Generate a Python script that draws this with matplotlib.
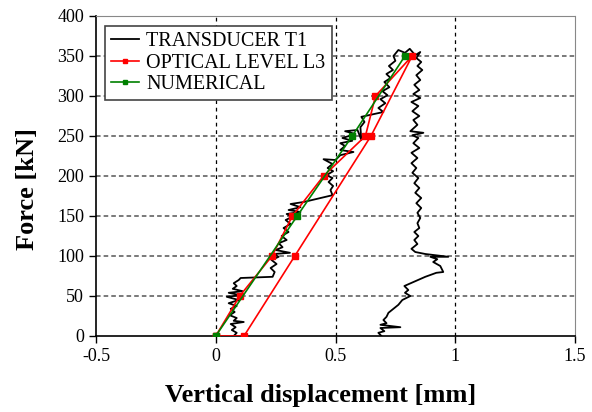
import matplotlib
matplotlib.use("Agg")
import matplotlib.pyplot as plt

# ---- data ----
transducer_x = [0.075, 0.0875, 0.067, 0.083, 0.0625, 0.117, 0.075, 0.0875, 0.058, 0.079,
                0.0625, 0.0875, 0.054, 0.096, 0.046, 0.104, 0.054, 0.1125, 0.071, 0.0875,
                0.075, 0.096, 0.104, 0.2375, 0.246, 0.229, 0.254, 0.233, 0.2625, 0.242,
                0.31, 0.25, 0.279, 0.263, 0.296, 0.275, 0.304, 0.283, 0.3125, 0.292,
                0.32, 0.296, 0.354, 0.304, 0.354, 0.3125, 0.367, 0.4875, 0.479, 0.49,
                0.471, 0.4875, 0.4625, 0.49, 0.467, 0.4875, 0.45, 0.5, 0.52, 0.575,
                0.52, 0.54, 0.52, 0.57, 0.529, 0.583, 0.54, 0.592, 0.608, 0.604,
                0.621, 0.608, 0.70, 0.679, 0.708, 0.6875, 0.717, 0.696, 0.725, 0.704,
                0.73, 0.7125, 0.74, 0.723, 0.75, 0.742, 0.7625, 0.79, 0.81, 0.833,
                0.854, 0.8375,
                0.858, 0.842, 0.8625, 0.8375, 0.854, 0.829, 0.85, 0.825, 0.854, 0.817,
                0.846, 0.821, 0.85, 0.825, 0.842, 0.8125, 0.867, 0.821, 0.846, 0.825,
                0.85, 0.817, 0.842, 0.817, 0.8375, 0.821, 0.846, 0.829, 0.85, 0.833,
                0.858, 0.8375, 0.858, 0.842, 0.854, 0.842, 0.85, 0.829, 0.846, 0.829,
                0.842, 0.817, 0.833, 0.875, 0.971, 0.896, 0.925, 0.908, 0.9375, 0.95,
                0.921, 0.875, 0.825, 0.7875, 0.804, 0.79, 0.8125, 0.779, 0.7625, 0.742,
                0.721, 0.713, 0.70, 0.713, 0.6875, 0.771, 0.6875, 0.704, 0.679, 0.6917]
transducer_y = [0, 4, 7.5, 11, 15, 17.5, 19, 22.5, 26, 30,
                34, 37.5, 41, 45, 49, 51, 54, 56, 59, 62.5,
                66, 70, 72.5, 74, 80, 85, 90, 95, 99, 102.5,
                104, 107.5, 111, 116, 120, 125, 130, 135, 140, 145,
                149, 152.5, 155, 157.5, 161, 165, 167.5, 176, 182.5, 187.5,
                192.5, 197.5, 201, 206, 210, 215, 221, 220, 226, 230,
                232.5, 237.5, 241, 244, 247.5, 252.5, 256, 257.5, 245, 261,
                267.5, 274, 280, 285, 291, 296, 301, 306, 311, 317.5,
                322.5, 327.5, 332.5, 337.5, 344, 350, 357.5, 354, 359, 351,
                355, 347.5,
                342.5, 337.5, 332.5, 326, 320, 314, 307.5, 302.5, 297.5, 292.5,
                287.5, 281, 275, 270, 264, 256, 254, 251, 247.5, 241,
                235, 229, 222.5, 216, 210, 204, 197.5, 191, 185, 179,
                172.5, 166, 160, 154, 147.5, 141, 135, 130, 125, 120,
                115, 109, 105, 102.5, 99, 99, 96, 92.5, 87.5, 80,
                79, 74, 67.5, 62.5, 57.5, 54, 50, 45, 39, 34,
                29, 24, 20, 16, 14, 11, 10, 6, 4, 0]

optical_x = [0.0, 0.10, 0.235, 0.32, 0.45, 0.625, 0.667, 0.82, 0.648, 0.33, 0.118, 0.0]
optical_y = [0, 50, 100, 150, 200, 250, 300, 350, 250, 100, 0, 0]

numerical_x = [0.0, 0.34, 0.57, 0.79]
numerical_y = [0, 150, 250, 350]

x_ticks = [-0.5, 0, 0.5, 1, 1.5]
x_tick_labels = ["-0.5", "0", "0.5", "1", "1.5"]
y_ticks = [0, 50, 100, 150, 200, 250, 300, 350, 400]

# ---- plot ----
plt.rcParams['font.family'] = ['Liberation Serif', 'DejaVu Serif']
fig = plt.figure(figsize=(5.92, 4.12), dpi=100)
ax = fig.add_axes([96/592, 1-336/412, (575-96)/592, (336-16)/412])

ax.plot(transducer_x, transducer_y, color='black', lw=1.3, label='TRANSDUCER T1', zorder=3)
ax.plot(optical_x, optical_y, color='#FF0000', lw=1.2, marker='s', ms=4.5,
        label='OPTICAL LEVEL L3', zorder=4)
ax.plot(numerical_x, numerical_y, color='#008000', lw=1.2, marker='s', ms=4.5,
        label='NUMERICAL', zorder=5)

ax.set_xlim(-0.5, 1.5)
ax.set_ylim(0, 400)
ax.set_xticks(x_ticks)
ax.set_xticklabels(x_tick_labels)
ax.set_yticks(y_ticks)
ax.tick_params(labelsize=13, direction='out', length=5, width=1)

for xv in [0, 0.5, 1.0]:
    ax.axvline(xv, color='black', lw=0.9, ls=(0, (3, 3)), zorder=1)
for yv in [50, 100, 150, 200, 250, 300, 350]:
    ax.axhline(yv, color='#555555', lw=1.1, ls=(0, (3, 2)), zorder=1)

for s in ['top', 'right']:
    ax.spines[s].set_color('#888888')
    ax.spines[s].set_linestyle((0, (3, 1)))
for s in ['left', 'bottom']:
    ax.spines[s].set_color('black')
    ax.spines[s].set_linewidth(1.2)

ax.set_xlabel('Vertical displacement [mm]', fontsize=19, fontweight='bold')
ax.set_ylabel('Force [kN]', fontsize=19, fontweight='bold')
ax.xaxis.set_label_coords(0.468, -0.150)
ax.yaxis.set_label_coords(-0.12, 0.46)

leg = ax.legend(loc='upper left', bbox_to_anchor=(-0.002, 1.0), fontsize=14.5,
                frameon=True, fancybox=False, edgecolor='#444444', framealpha=1,
                handlelength=1.4, handletextpad=0.35, labelspacing=0.12,
                borderpad=0.3, markerscale=0.6)
leg.get_frame().set_linewidth(1.2)

fig.savefig('out.png', dpi=100)
